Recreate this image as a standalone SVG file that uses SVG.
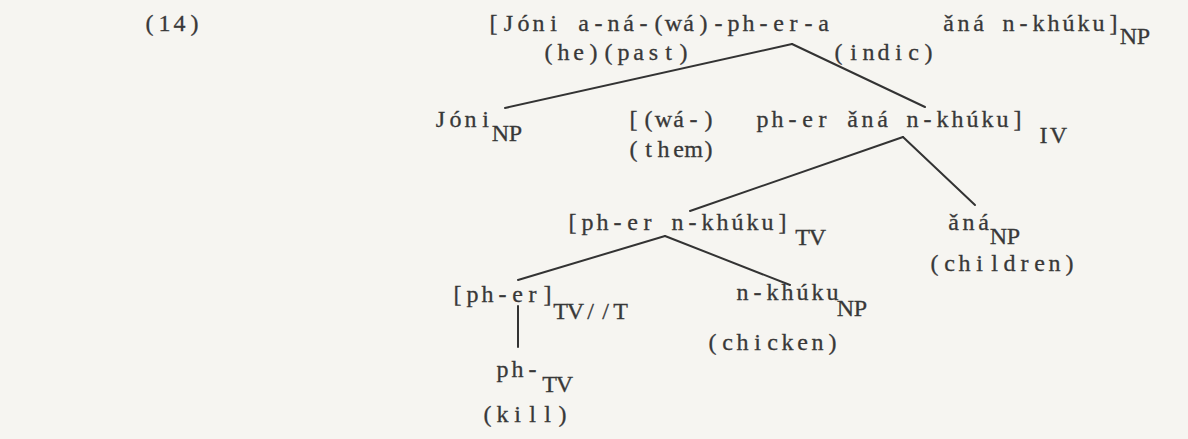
<svg xmlns="http://www.w3.org/2000/svg" width="1188" height="439" viewBox="0 0 1188 439">
<style>
  text { font-family: "Liberation Serif", "Times New Roman", serif; font-size: 24px; fill: #383838; stroke: #383838; stroke-width: 0.3; text-anchor: middle; }
  .edge { stroke: #333; stroke-width: 2; fill: none; stroke-linecap: round; }
</style>
<rect width="1188" height="439" fill="#f6f5f1"/>
<g id="connectors">
  <line class="edge" x1="792" y1="44" x2="505" y2="108"/>
  <line class="edge" x1="792" y1="44" x2="925" y2="107"/>
  <line class="edge" x1="903" y1="137" x2="690" y2="211"/>
  <line class="edge" x1="903" y1="137" x2="975" y2="205"/>
  <line class="edge" x1="665" y1="236" x2="518" y2="280"/>
  <line class="edge" x1="665" y1="236" x2="790" y2="285"/>
  <line class="edge" x1="518" y1="306" x2="518" y2="347"/>
</g>
<g id="example-number"><text x="149.5 164.5 179.5 194.5" y="31">(14)</text></g>
<g id="node-root">
  <text x="493.5 508.5 523.5 538.5 553.5 568.5 583.5 598.5 613.5 628.5 643.5 658.5 673.5 688.5 703.5 718.5 733.5 748.5 763.5 778.5 793.5 808.5 823.5" y="31">[Jóni a-ná-(wá)-ph-er-a</text>
  <text x="948.5 963.5 978.5 993.5 1008.5 1023.5 1038.5 1053.5 1068.5 1083.5 1098.5 1113.5" y="31">ǎná n-khúku]</text>
  <text x="1128.5 1143.5" y="44">NP</text>
  <text x="548.5 563.5 578.5 593.5 608.5 623.5 638.5 653.5 668.5 683.5" y="60">(he)(past)</text>
  <text x="838.5 853.5 868.5 883.5 898.5 913.5 928.5" y="60">(indic)</text>
</g>
<g id="node-joni">
  <text x="440.5 455.5 470.5 485.5" y="127">Jóni</text>
  <text x="500.5 515.5" y="141">NP</text>
</g>
<g id="node-iv">
  <text x="633.5 648.5 663.5 678.5 693.5 708.5" y="127">[(wá-)</text>
  <text x="762.5 777.5 792.5 807.5 822.5 837.5 852.5 867.5 882.5 897.5 912.5 927.5 942.5 957.5 972.5 987.5 1002.5 1017.5" y="127">ph-er ǎná n-khúku]</text>
  <text x="1043.5 1058.5" y="143">IV</text>
  <text x="633.5 648.5 663.5 678.5 693.5 708.5" y="157">(them)</text>
</g>
<g id="node-tv">
  <text x="572.5 587.5 602.5 617.5 632.5 647.5 662.5 677.5 692.5 707.5 722.5 737.5 752.5 767.5 782.5" y="230">[ph-er n-khúku]</text>
  <text x="802.5 817.5" y="245">TV</text>
</g>
<g id="node-ana">
  <text x="953.5 968.5 983.5" y="230">ǎná</text>
  <text x="998.5 1013.5" y="244">NP</text>
  <text x="934.5 949.5 964.5 979.5 994.5 1009.5 1024.5 1039.5 1054.5 1069.5" y="271">(children)</text>
</g>
<g id="node-pher">
  <text x="457.5 472.5 487.5 502.5 517.5 532.5 547.5" y="302">[ph-er]</text>
  <text x="560.5 575.5 590.5 605.5 620.5" y="319">TV//T</text>
</g>
<g id="node-nkhuku">
  <text x="742.5 757.5 772.5 787.5 802.5 817.5 832.5" y="300">n-khúku</text>
  <text x="845.5 860.5" y="316">NP</text>
  <text x="712.5 727.5 742.5 757.5 772.5 787.5 802.5 817.5 832.5" y="350">(chicken)</text>
</g>
<g id="node-ph">
  <text x="502.5 517.5 532.5" y="377">ph-</text>
  <text x="549.5 564.5" y="392">TV</text>
  <text x="487.5 502.5 517.5 532.5 547.5 562.5" y="422">(kill)</text>
</g>
</svg>
